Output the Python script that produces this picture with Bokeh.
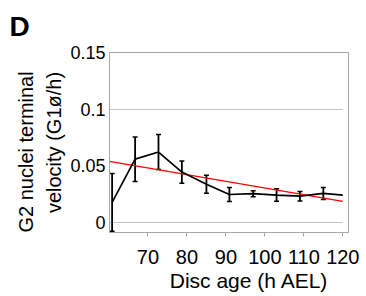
from bokeh.plotting import figure
from bokeh.models import (Range1d, FixedTicker, Whisker, TeeHead,
                          ColumnDataSource, Title)
from bokeh.embed import file_html
from bokeh.resources import INLINE

# ---- data ----
disc_age = [60.8, 66.7, 72.7, 78.7, 85.0, 90.9, 97.0, 103.0, 109.0, 115.0, 120.0]
velocity = [0.0175, 0.0557, 0.062, 0.0443, 0.0336, 0.0245, 0.0252, 0.024,
            0.023, 0.0254, 0.024]
velocity_err = [0.0255, 0.0197, 0.0155, 0.0098, 0.008, 0.0062, 0.0026,
                0.0055, 0.0042, 0.0053]
trend_age = [60.13, 120.0]
trend_velocity = [0.0538, 0.0184]

x_ticks = [70, 80, 90, 100, 110, 120]
y_ticks = [0, 0.05, 0.1, 0.15]
y_tick_labels = ["0", "0.05", "0.1", "0.15"]
y_grid_lines = [0, 0.1]

panel_letter = "D"
x_title = "Disc age (h AEL)"
y_title_lines = ["G2  nuclei terminal", "velocity (G1ø/h)"]

FONT = "Liberation Sans"
GRAY = "#a6a6a6"

p = figure(width=366, height=296, output_backend="svg", toolbar_location=None,
           x_range=Range1d(60.13, 121.46), y_range=Range1d(-0.0091, 0.15),
           min_border_left=109, min_border_right=18,
           min_border_top=52, min_border_bottom=63)
p.outline_line_color = GRAY
p.background_fill_color = "white"
p.border_fill_color = "white"

# grid
p.xgrid.visible = False
p.ygrid.ticker = FixedTicker(ticks=y_grid_lines)
p.ygrid.grid_line_color = "#c4c4c4"
p.ygrid.grid_line_width = 1
try:
    p.ygrid[0].cross_bounds = (trend_age[0], x_ticks[-1])
except Exception:
    pass

# x axis
xa = p.xaxis[0]
xa.ticker = FixedTicker(ticks=x_ticks)
xa.axis_line_color = GRAY
xa.major_tick_line_color = GRAY
xa.major_tick_out = 4
xa.major_tick_in = 0
xa.minor_tick_line_color = None
xa.major_label_text_font = FONT
xa.major_label_text_font_size = "20px"
xa.major_label_text_color = "black"
xa.major_label_standoff = 13

# y axis
ya = p.yaxis[0]
ya.ticker = FixedTicker(ticks=y_ticks)
ya.major_label_overrides = dict(zip(y_ticks, y_tick_labels))
ya.axis_line_color = GRAY
ya.major_tick_line_color = None
ya.major_tick_out = 0
ya.major_tick_in = 0
ya.minor_tick_line_color = None
ya.major_label_text_font = FONT
ya.major_label_text_font_size = "18px"
ya.major_label_text_color = "black"
ya.major_label_standoff = 4

# trend line
p.line(trend_age, trend_velocity, line_color="#ff0000", line_width=1.2)

# data line
p.line(disc_age, velocity, line_color="black", line_width=1.7)

# error bars
n = len(velocity_err)
err_src = ColumnDataSource(dict(
    x=disc_age[:n],
    upper=[v + e for v, e in zip(velocity[:n], velocity_err)],
    lower=[v - e for v, e in zip(velocity[:n], velocity_err)],
))
wh = Whisker(base="x", upper="upper", lower="lower", source=err_src,
             line_color="black", line_width=1.8,
             upper_head=TeeHead(size=5, line_color="black", line_width=1.5),
             lower_head=TeeHead(size=5, line_color="black", line_width=1.5))
p.add_layout(wh)

# texts as titles in the side panels
p.add_layout(Title(text=panel_letter, text_font=FONT, text_font_size="28px",
                   text_font_style="bold", text_color="black",
                   align="left", offset=-100, vertical_align="top",
                   standoff=18), "above")
p.add_layout(Title(text=x_title, text_font=FONT, text_font_size="21px",
                   text_font_style="normal", text_color="black",
                   align="right", offset=20, vertical_align="top",
                   standoff=5), "below")
p.add_layout(Title(text=y_title_lines[1], text_font=FONT, text_font_size="20px",
                   text_font_style="normal", text_color="black",
                   align="center", vertical_align="bottom", standoff=5), "left")
p.add_layout(Title(text=y_title_lines[0], text_font=FONT, text_font_size="20px",
                   text_font_style="normal", text_color="black",
                   align="left", offset=0, vertical_align="bottom",
                   standoff=3), "left")

open("out.html", "w").write(file_html(p, INLINE))
